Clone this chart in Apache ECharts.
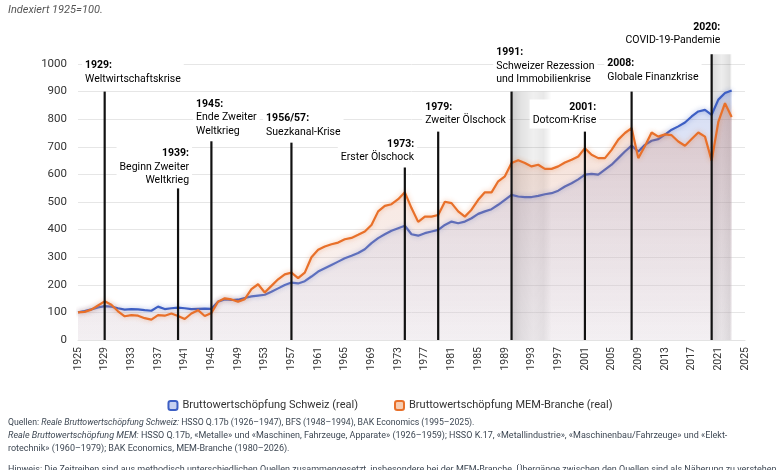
<!DOCTYPE html>
<html>
<head>
<meta charset="utf-8">
<script src="https://cdn.jsdelivr.net/npm/echarts@6/dist/echarts.min.js"></script>
<style>
  html, body { margin: 0; padding: 0; background: #fff; }
  #chart { width: 780px; height: 470px; }
</style>
</head>
<body>
<div id="chart"></div>
<script>
// x-axis categories 1925..2025 (data runs to 2023)
const firstYear = 1925, lastYear = 2025;
const years = [];
for (let y = firstYear; y <= lastYear; y++) years.push(String(y));

// Reale Bruttowertschöpfung, indexiert 1925=100 (1925..2023)
const swiss = [
  100, 105, 111, 118, 123, 121, 115, 110, 112, 111,
  108, 106, 121, 112, 115, 117, 115, 112, 113, 114,
  113, 139, 147, 145, 146, 152, 158, 161, 164, 175,
  187, 199, 208, 205, 213, 230, 248, 260, 272, 284,
  296, 305, 315, 329, 351, 369, 383, 396, 405, 414,
  383, 378, 387, 393, 399, 417, 429, 423, 429, 441,
  457, 466, 474, 490, 508, 526, 520, 518, 518, 522,
  528, 532, 541, 556, 568, 582, 599, 602, 599, 617,
  635, 659, 683, 704, 683, 707, 722, 728, 744, 762,
  774, 788, 810, 828, 834, 816, 871, 895, 904
];
const mem = [
  100, 102, 110, 125, 140, 128, 104, 86, 90, 88,
  79, 74, 90, 88, 96, 87, 76, 96, 108, 87,
  98, 139, 151, 147, 139, 148, 184, 202, 172, 196,
  220, 238, 244, 224, 244, 300, 327, 339, 347, 353,
  365, 370, 381, 393, 417, 466, 486, 492, 510, 535,
  478, 428, 447, 447, 453, 501, 496, 466, 447, 472,
  508, 535, 535, 575, 593, 641, 651, 641, 629, 635,
  620, 620, 629, 643, 653, 665, 695, 671, 659, 659,
  689, 726, 750, 768, 659, 703, 752, 737, 745, 742,
  719, 704, 728, 752, 737, 650, 790, 858, 808
];

// Ereignisse: Jahr der Linie, Höhe der Linie, Beschriftung
const eventYears = [1929, 1940, 1945, 1957, 1974, 1979, 1990, 2001, 2008, 2020];
const eventTops  = [900, 550, 720, 715, 625, 755, 900, 755, 900, 1035];
const eventTitles = ['1929:', '1939:', '1945:', '1956/57:', '1973:', '1979:', '1991:', '2001:', '2008:', '2020:'];
const eventTexts = [
  'Weltwirtschaftskrise',
  'Beginn Zweiter\nWeltkrieg',
  'Ende Zweiter\nWeltkrieg',
  'Suezkanal-Krise',
  'Erster Ölschock',
  'Zweiter Ölschock',
  'Schweizer Rezession\nund Immobilienkrise',
  'Dotcom-Krise',
  'Globale Finanzkrise',
  'COVID-19-Pandemie'
];
// where each text block sits (year, value of its top edge, alignment)
const labelYears  = [1925.6, 1942.1, 1942.25, 1952.75, 1975.85, 1976.6, 1987.25, 2003.15, 2003.9, 2021.75];
const labelValues = [1023, 704, 882, 831, 737, 871, 1070, 871, 1030, 1161];
const labelAlign  = ['left', 'right', 'left', 'left', 'right', 'left', 'left', 'right', 'left', 'right'];

// graue Schattenbänder nach 1991 und 2020
const bandStart = [1990, 2020];
const bandEnd   = [1996, 2023];
const bandTop   = [900, 1035];

const BLUE = '#3d5fc4';
const ORANGE = '#e8702a';
const FONT = 'Roboto, "Noto Sans", sans-serif';
const NOTE = '#3d4753';

const chart = echarts.init(document.getElementById('chart'));

function xAt(api, yr) {
  const base = Math.floor(yr);
  const p = api.coord([base - firstYear, 0]);
  const w = api.size([1, 0])[0];
  return p[0] + (yr - base) * w;
}

const bandStops = [
  [
    { offset: 0, color: 'rgba(0,0,0,0.20)' },
    { offset: 0.25, color: 'rgba(0,0,0,0.11)' },
    { offset: 0.55, color: 'rgba(0,0,0,0.06)' },
    { offset: 0.8, color: 'rgba(0,0,0,0.09)' },
    { offset: 1, color: 'rgba(0,0,0,0)' }
  ],
  [
    { offset: 0, color: 'rgba(0,0,0,0.15)' },
    { offset: 0.5, color: 'rgba(0,0,0,0.07)' },
    { offset: 0.9, color: 'rgba(0,0,0,0.13)' },
    { offset: 1, color: 'rgba(0,0,0,0.02)' }
  ]
];

const option = {
  animation: false,
  textStyle: { fontFamily: FONT },
  grid: { left: 78, right: 35, top: 64, bottom: 130 },
  legend: {
    top: 395,
    left: 'center',
    itemWidth: 9,
    itemHeight: 9,
    itemGap: 36,
    icon: 'roundRect',
    textStyle: { color: '#333', fontSize: 11, fontFamily: FONT },
    data: [
      { name: 'Bruttowertschöpfung Schweiz (real)', itemStyle: { color: '#c8d2f0', borderColor: BLUE, borderWidth: 2 } },
      { name: 'Bruttowertschöpfung MEM-Branche (real)', itemStyle: { color: '#f6cdb3', borderColor: ORANGE, borderWidth: 2 } }
    ]
  },
  xAxis: {
    type: 'category',
    data: years,
    boundaryGap: false,
    axisTick: { show: false },
    axisLine: { show: true, lineStyle: { color: '#e3e3e3' } },
    axisLabel: {
      interval: 3,
      rotate: 90,
      margin: 7,
      color: '#333',
      fontSize: 10.5,
      fontFamily: FONT
    },
    splitLine: { show: false }
  },
  yAxis: {
    type: 'value',
    min: 0,
    max: 1000,
    interval: 100,
    axisLine: { show: false },
    axisTick: { show: false },
    axisLabel: { color: '#333', fontSize: 11.5, margin: 11, fontFamily: FONT, formatter: v => String(v) },
    splitLine: { lineStyle: { color: '#e6e6e6', width: 1 } }
  },
  series: [
    {
      type: 'custom',
      name: 'bands',
      silent: true,
      clip: false,
      z: 1,
      data: bandStart.map((s, i) => [String(s), bandTop[i]]),
      renderItem(params, api) {
        const i = params.dataIndex;
        const p0 = api.coord([api.value(0), api.value(1)]);
        const p1 = api.coord([bandEnd[i] - firstYear, 0]);
        return {
          type: 'rect',
          shape: { x: p0[0], y: p0[1], width: p1[0] - p0[0], height: p1[1] - p0[1] },
          style: {
            fill: new echarts.graphic.LinearGradient(0, 0, 1, 0, bandStops[i])
          }
        };
      }
    },
    {
      name: 'Bruttowertschöpfung Schweiz (real)',
      type: 'line',
      data: swiss,
      symbol: 'none',
      z: 2,
      itemStyle: { color: BLUE },
      lineStyle: { color: BLUE, width: 2.2, shadowBlur: 5, shadowColor: 'rgba(61,95,196,0.45)' },
      areaStyle: {
        color: new echarts.graphic.LinearGradient(0, 0, 0, 1, [
          { offset: 0, color: 'rgba(120,145,220,0.45)' },
          { offset: 1, color: 'rgba(210,210,228,0.28)' }
        ])
      }
    },
    {
      name: 'Bruttowertschöpfung MEM-Branche (real)',
      type: 'line',
      data: mem,
      symbol: 'none',
      z: 3,
      itemStyle: { color: ORANGE },
      lineStyle: { color: ORANGE, width: 2.2, shadowBlur: 5, shadowColor: 'rgba(232,112,42,0.45)' },
      areaStyle: {
        color: new echarts.graphic.LinearGradient(0, 0, 0, 1, [
          { offset: 0, color: 'rgba(215,120,78,0.38)' },
          { offset: 1, color: 'rgba(228,205,205,0.24)' }
        ])
      }
    },
    {
      type: 'custom',
      name: 'events',
      silent: true,
      clip: false,
      z: 10,
      data: eventYears.map((y, i) => [String(y), eventTops[i]]),
      renderItem(params, api) {
        const i = params.dataIndex;
        const base = api.coord([api.value(0), 0]);
        const top = api.coord([api.value(0), api.value(1)]);
        const tx = xAt(api, labelYears[i]);
        const ty = api.coord([0, labelValues[i]])[1];
        return {
          type: 'group',
          children: [
            {
              type: 'line',
              shape: { x1: base[0], y1: base[1], x2: top[0], y2: top[1] },
              style: { stroke: '#111', lineWidth: 2.2 }
            },
            {
              type: 'text',
              x: tx,
              y: ty,
              style: {
                text: '{b|' + eventTitles[i] + '}\n' + eventTexts[i].split('\n').map(t => '{n|' + t + '}').join('\n'),
                align: labelAlign[i],
                textAlign: labelAlign[i],
                verticalAlign: 'top',
                textVerticalAlign: 'top',
                backgroundColor: '#fff',
                padding: [1, 3],
                rich: {
                  b: { fontWeight: 'bold', fontSize: 10.5, color: '#333', lineHeight: 13.5, fontFamily: FONT, align: labelAlign[i] },
                  n: { fontSize: 10.5, color: '#444', lineHeight: 13.5, fontFamily: FONT, align: labelAlign[i] }
                }
              }
            }
          ]
        };
      }
    }
  ],
  graphic: [
    {
      type: 'text', left: 8, top: 5,
      style: { text: 'Indexiert 1925=100.', fill: '#555', font: 'italic 11px ' + FONT }
    },
    {
      type: 'text', left: 8, top: 418,
      style: {
        text: '{n|Quellen: }{i|Reale Bruttowertschöpfung Schweiz:}{n| HSSO Q.17b (1926–1947), BFS (1948–1994), BAK Economics (1995–2025).}',
        rich: {
          n: { fontSize: 8.7, fill: NOTE, fontFamily: FONT },
          i: { fontSize: 8.7, fill: NOTE, fontStyle: 'italic', fontFamily: FONT }
        }
      }
    },
    {
      type: 'text', left: 8, top: 431,
      style: {
        text: '{i|Reale Bruttowertschöpfung MEM:}{n| HSSO Q.17b, «Metalle» und «Maschinen, Fahrzeuge, Apparate» (1926–1959); HSSO K.17, «Metallindustrie», «Maschinenbau/Fahrzeuge» und «Elekt-}',
        rich: {
          n: { fontSize: 9, fill: NOTE, fontFamily: FONT },
          i: { fontSize: 9, fill: NOTE, fontStyle: 'italic', fontFamily: FONT }
        }
      }
    },
    {
      type: 'text', left: 8, top: 444,
      style: { text: 'rotechnik» (1960–1979); BAK Economics, MEM-Branche (1980–2026).', fill: NOTE, font: '9px ' + FONT }
    },
    {
      type: 'text', left: 8, top: 465,
      style: {
        text: 'Hinweis: Die Zeitreihen sind aus methodisch unterschiedlichen Quellen zusammengesetzt, insbesondere bei der MEM-Branche. Übergänge zwischen den Quellen sind als Näherung zu verstehen.',
        fill: NOTE, font: '9px ' + FONT
      }
    }
  ]
};

chart.setOption(option);
</script>
</body>
</html>
